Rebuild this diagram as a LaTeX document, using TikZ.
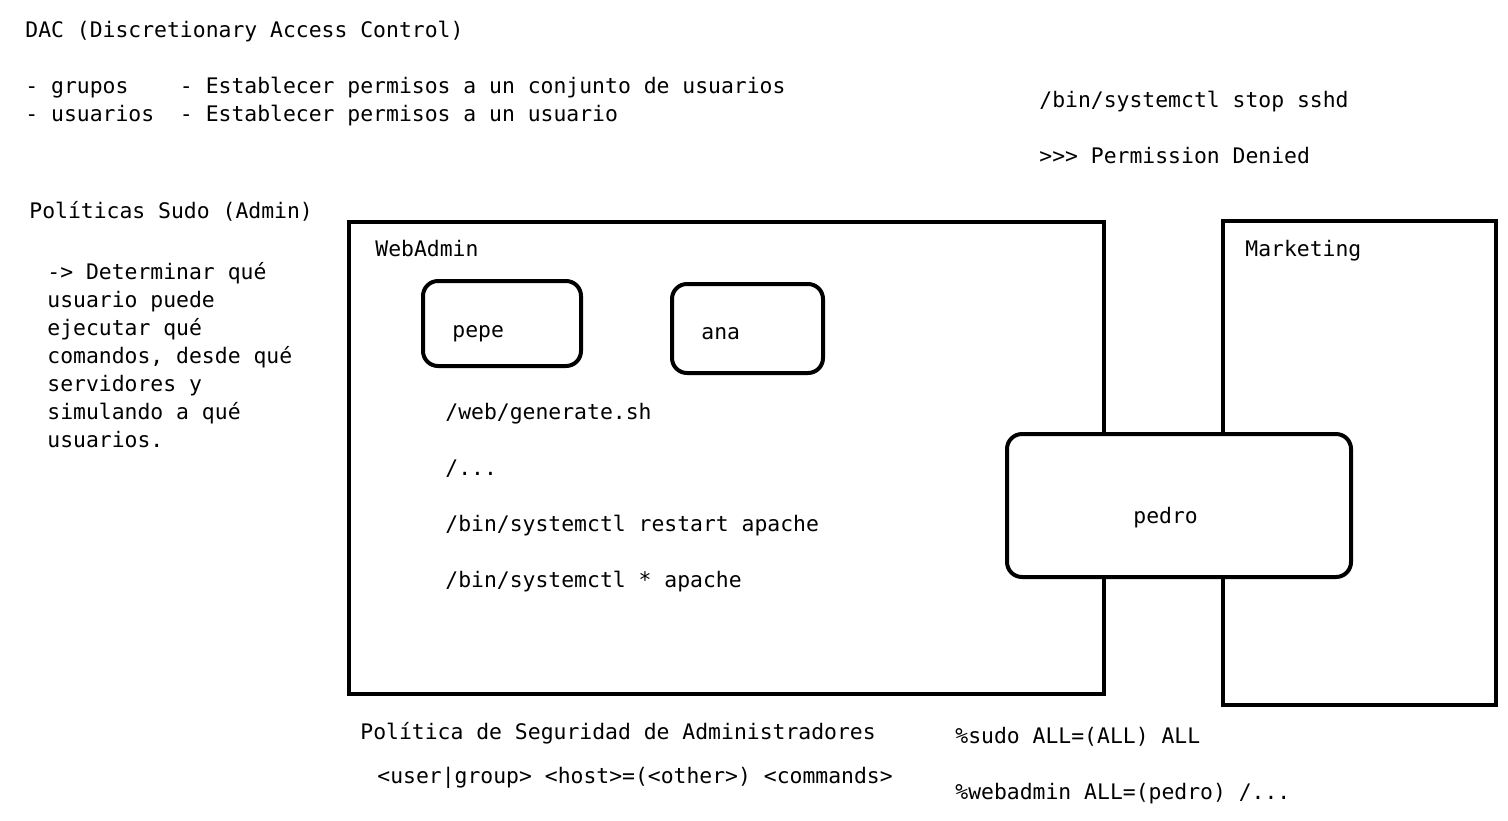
\documentclass[tikz,border=0pt]{standalone}
\usepackage{fontspec}
\setmonofont{DejaVu Sans Mono}
\begin{document}
\begin{tikzpicture}[x=0.5pt,y=-0.5pt,
  txt/.style={anchor=base west,inner sep=0pt,font=\ttfamily\fontsize{10.7pt}{13pt}\selectfont},
  frame/.style={draw=black,line width=2pt},
  userbox/.style={draw=black,line width=2pt,rounded corners=7.5pt,fill=white}]
\useasboundingbox[fill=white] (0,0) rectangle (1508,820);
% header texts
\node[txt] (dac) at (25,37) {DAC (Discretionary Access Control)};
\node[txt] (g1) at (25,93) {- grupos\ \ \ \ - Establecer permisos a un conjunto de usuarios};
\node[txt] (g2) at (25,121) {- usuarios\ \ - Establecer permisos a un usuario};
\node[txt] (stop) at (1039,107) {/bin/systemctl stop sshd};
\node[txt] (denied) at (1039,163) {>{}>{}> Permission Denied};
\node[txt] (pol) at (29,218) {Políticas Sudo (Admin)};
\node[txt] (d1) at (47,279) {-> Determinar qué};
\node[txt] (d2) at (47,307) {usuario puede};
\node[txt] (d3) at (47,335) {ejecutar qué};
\node[txt] (d4) at (47,363) {comandos, desde qué};
\node[txt] (d5) at (47,391) {servidores y};
\node[txt] (d6) at (47,419) {simulando a qué};
\node[txt] (d7) at (47,447) {usuarios.};
% group frames
\draw[frame] (349,222) rectangle (1104,694);
\draw[frame] (1223,221) rectangle (1496,705);
\node[txt] (webadmin) at (375,256) {WebAdmin};
\node[txt] (marketing) at (1245,256) {Marketing};
% users
\draw[userbox] (423,281) rectangle (581,366);
\node[txt] (pepe) at (452,337) {pepe};
\draw[userbox] (672,284) rectangle (823,373);
\node[txt] (ana) at (701,339) {ana};
\draw[userbox] (1007,434) rectangle (1351,577);
\node[txt] (pedro) at (1133,523) {pedro};
% commands
\node[txt] (c1) at (445,419) {/web/generate.sh};
\node[txt] (c2) at (445,475) {/...};
\node[txt] (c3) at (445,531) {/bin/systemctl restart apache};
\node[txt] (c4) at (445,587) {/bin/systemctl * apache};
% bottom
\node[txt] (psa) at (360,739) {Política de Seguridad de Administradores};
\node[txt] (syn) at (377,783) {<user|group> <host>=(<other>) <commands>};
\node[txt] (s1) at (955,743) {\%sudo ALL=(ALL) ALL};
\node[txt] (s2) at (955,799) {\%webadmin ALL=(pedro) /...};
\end{tikzpicture}
\end{document}
